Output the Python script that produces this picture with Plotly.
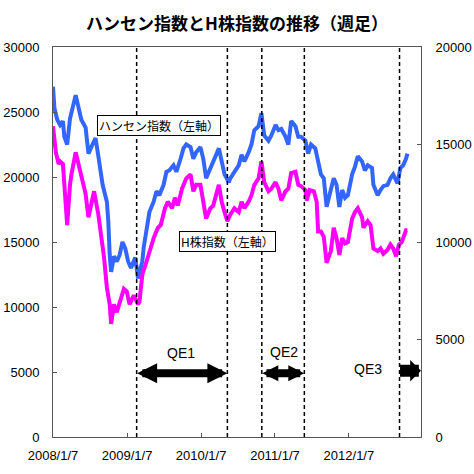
import pandas as pd
import plotly.graph_objects as go

# weekly data, week index from 2008/1/7
hsi_weeks = [0, 1, 3, 5, 7, 8, 10, 12, 16, 18, 20, 23, 25, 27, 30, 32, 33, 35, 38, 39,
             40, 41, 43, 45, 47, 49, 51, 53, 55, 58, 60, 63, 64, 66, 68, 71, 73, 75, 78, 80,
             82, 85, 87, 90, 92, 94, 97, 99, 101, 104, 106, 108, 111, 113, 117, 119, 121, 124, 125, 128,
             131, 133, 135, 138, 140, 142, 145, 147, 149, 152, 154, 157, 159, 161, 164, 166, 168, 171, 173, 175,
             178, 180, 182, 185, 187, 189, 191, 193, 195, 198, 200, 202, 204, 206, 208, 211, 213, 215, 218, 220,
             222, 225, 226, 229, 231, 233, 236, 238, 240, 243, 245, 247, 249, 250]
hsi_values = [26950, 25300, 24400, 24000, 24300, 23100, 22500, 24500, 26300, 25300, 24400, 23800, 21800, 22300, 23000, 21600, 20700, 19400, 18100, 16600,
              14000, 12700, 13900, 13500, 14000, 15000, 14500, 13500, 13000, 13800, 12200, 13500, 14600, 16000, 17300, 18100, 18900, 18600, 19400, 20400,
              20500, 20900, 20400, 21400, 22200, 22500, 22300, 21400, 21900, 22300, 21400, 19900, 20700, 21200, 22200, 21200, 20200, 19600, 19900, 20400,
              20900, 21700, 21200, 21900, 22500, 23600, 23900, 24900, 23200, 22800, 23200, 24000, 23600, 23700, 23100, 22500, 24300, 23900, 23100, 23100,
              22800, 21800, 22500, 22200, 21200, 20200, 19900, 17700, 18600, 19900, 19400, 17700, 19000, 18400, 18600, 20200, 20800, 21600, 21200, 20500,
              20900, 20700, 19400, 18600, 19000, 19300, 19400, 19900, 20200, 19500, 20700, 20900, 21400, 21800]

h_weeks = [0, 2, 4, 5, 7, 8, 10, 12, 13, 16, 18, 20, 23, 25, 27, 29, 32, 34, 36, 38,
           40, 41, 43, 45, 47, 50, 52, 54, 57, 59, 60, 61, 62, 63, 66, 68, 71, 74, 76, 79,
           81, 84, 86, 88, 91, 94, 97, 99, 101, 104, 106, 108, 111, 113, 117, 119, 121, 123, 125, 128,
           131, 133, 135, 138, 140, 142, 145, 147, 149, 152, 154, 157, 159, 161, 164, 166, 168, 171, 173, 175,
           178, 179, 181, 184, 186, 187, 189, 191, 193, 196, 198, 200, 202, 204, 206, 208, 211, 213, 215, 218,
           219, 222, 224, 226, 229, 231, 233, 236, 238, 240, 242, 244, 246, 249, 250]
h_values = [23900, 21900, 21000, 21200, 21000, 19400, 16300, 19400, 20200, 21900, 20900, 20200, 18700, 16900, 18100, 18900, 17100, 15500, 13800, 11500,
            10200, 8700, 10200, 9600, 10400, 11400, 11200, 10200, 10900, 10400, 10200, 10400, 11400, 12500, 13500, 14300, 15300, 16100, 16300, 17600,
            18100, 17600, 18400, 17800, 19100, 19900, 20200, 18900, 19400, 19400, 18100, 16800, 17600, 17800, 19400, 18100, 17300, 16600, 17100, 17600,
            17300, 18100, 17600, 18100, 18600, 19400, 19900, 21200, 19600, 18900, 19100, 19600, 19100, 18200, 18900, 19100, 20300, 20400, 19400, 19300,
            19000, 18200, 19000, 18900, 18100, 15800, 15800, 15400, 13400, 14300, 16100, 15300, 14000, 15300, 14900, 15000, 16800, 17300, 17600, 16900,
            16100, 16600, 16300, 14500, 14300, 14500, 14100, 14400, 14800, 14500, 13900, 14800, 15000, 15900, 15900]

start = pd.Timestamp("2008-01-07")
hsi_dates = [start + pd.Timedelta(days=7 * w) for w in hsi_weeks]
h_dates = [start + pd.Timedelta(days=7 * w) for w in h_weeks]

x_tick_vals = ["2008-01-07", "2009-01-07", "2010-01-07", "2011-01-07", "2012-01-07"]
x_tick_text = ["2008/1/7", "2009/1/7", "2010/1/7", "2011/1/7", "2012/1/7"]
x_range = ["2008-01-07", "2012-12-28"]
y_left_ticks = [0, 5000, 10000, 15000, 20000, 25000, 30000]
y_right_ticks = [0, 5000, 10000, 15000, 20000]

qe_lines = ["2009-02-23", "2010-05-17", "2010-11-03", "2011-06-01", "2012-09-13"]
qe1 = ("2009-02-23", "2010-05-17")
qe2 = ("2010-11-03", "2011-06-01")
qe3 = ("2012-09-13", "2012-12-28")

fig = go.Figure()
fig.add_trace(go.Scatter(x=hsi_dates, y=hsi_values, mode="lines",
                         line=dict(color="#3366FF", width=4), name="ハンセン指数"))
fig.add_trace(go.Scatter(x=h_dates, y=h_values, mode="lines",
                         line=dict(color="#FF00FF", width=4), name="H株指数"))
fig.add_trace(go.Scatter(x=[], y=[], yaxis="y2", showlegend=False))

for d in qe_lines:
    fig.add_shape(type="line", xref="x", yref="paper", x0=d, x1=d, y0=0, y1=1,
                  line=dict(color="black", width=1.5, dash="4px,3px"))

lab_font = dict(family="Liberation Sans, Arial", size=14, color="black")
tiny = dict(size=1)
arrow_y = 4900
# QE1 / QE2 double arrows
for (a, b), sz in [(qe1, 0.5), (qe2, 0.4)]:
    fig.add_annotation(x=b, y=arrow_y, ax=a, ay=arrow_y, xref="x", yref="y", axref="x", ayref="y",
                       text="", font=tiny, borderpad=0, showarrow=True, arrowhead=2, startarrowhead=2,
                       arrowside="end+start", arrowwidth=8, arrowsize=sz, startarrowsize=sz,
                       arrowcolor="black")
# QE3 single arrow
fig.add_annotation(x=qe3[1], y=5100, ax=qe3[0], ay=5100, xref="x", yref="y", axref="x", ayref="y",
                   text="", font=tiny, borderpad=0, showarrow=True, arrowhead=1, arrowwidth=12,
                   arrowsize=0.3, arrowcolor="black")

fig.add_annotation(x="2009-10-01", y=6500, xref="x", yref="y", text="QE1", showarrow=False, font=lab_font)
fig.add_annotation(x="2011-02-20", y=6550, xref="x", yref="y", text="QE2", showarrow=False, font=lab_font)
fig.add_annotation(x="2012-04-10", y=5250, xref="x", yref="y", text="QE3", showarrow=False, font=lab_font)

# boxed series labels, positioned in pixels then converted to paper coords
L, R, T, B = 53, 53, 47, 37
pw, ph = 474 - L - R, 474 - T - B
box_font = dict(family="Noto Sans CJK JP", size=12, color="black")
for txt, px, py in [("ハンセン指数（左軸）", 159, 126), ("H株指数（左軸）", 227, 241)]:
    fig.add_annotation(x=(px - L) / pw, y=1 - (py - T) / ph, xref="paper", yref="paper",
                       xanchor="center", yanchor="middle", text=txt, showarrow=False,
                       font=box_font, bgcolor="white", bordercolor="black", borderwidth=1, borderpad=1)

axis_col = "#555555"
tick_font = dict(family="Liberation Sans, Arial", size=13, color="black")
fig.update_layout(
    width=474, height=474,
    margin=dict(l=L, r=R, t=T, b=B, autoexpand=False),
    paper_bgcolor="white", plot_bgcolor="white",
    showlegend=False,
    title=dict(text="<b>ハンセン指数とH株指数の推移（週足）</b>", x=0.5, xanchor="center",
               y=1 - 24 / 474, yanchor="middle", yref="container",
               font=dict(family="Noto Sans CJK JP", size=17, color="black")),
    xaxis=dict(type="date", range=x_range, tickvals=x_tick_vals, ticktext=x_tick_text,
               ticks="inside", ticklen=4, tickcolor=axis_col, showgrid=False, zeroline=False,
               showline=True, linecolor=axis_col, linewidth=1, mirror=True, tickfont=tick_font,
               ticklabelstandoff=6, automargin=False),
    yaxis=dict(range=[0, 30000], tickvals=y_left_ticks, tickformat="d", ticks="inside", ticklen=4,
               tickcolor=axis_col, showgrid=False, zeroline=False, showline=True, linecolor=axis_col,
               linewidth=1, tickfont=tick_font, ticklabelstandoff=10, automargin=False),
    yaxis2=dict(range=[0, 20000], tickvals=y_right_ticks, tickformat="d", overlaying="y", side="right",
                ticks="inside", ticklen=4, tickcolor=axis_col, showgrid=False, zeroline=False,
                showline=True, linecolor=axis_col, linewidth=1, tickfont=tick_font, ticklabelstandoff=11,
                automargin=False),
)

fig.write_html("out.html")
